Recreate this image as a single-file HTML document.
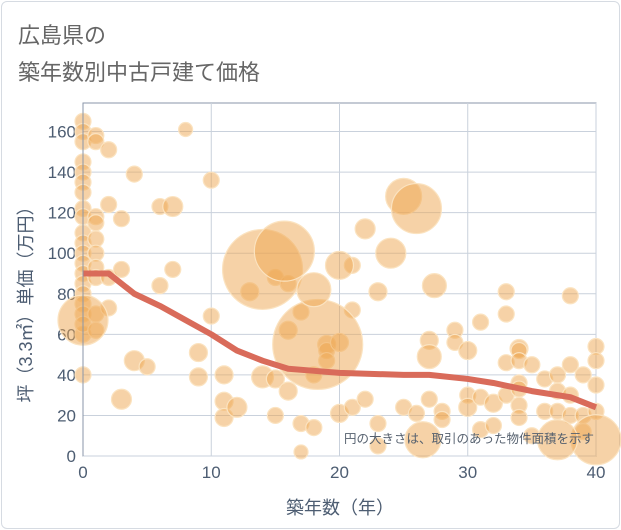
<!DOCTYPE html>
<html><head><meta charset="utf-8"><style>
html,body{margin:0;padding:0;background:#fff;}
body{width:621px;height:530px;overflow:hidden;position:relative;font-family:"Liberation Sans","Noto Sans CJK JP",sans-serif;}
#frame{position:absolute;left:1px;top:1px;width:617px;height:526px;border:1px solid #d6dbe2;border-radius:6px;}
.t{position:absolute;left:18px;font-size:22px;color:#666;}
</style></head><body>
<div id="frame"></div>
<div class="t" style="top:18px">広島県の</div>
<div class="t" style="top:55px">築年数別中古戸建て価格</div>
<svg id="chart" width="621" height="530" style="position:absolute;left:0;top:0"></svg>
<script>
const xTicks=[0,10,20,30,40];
const yTicks=[0,20,40,60,80,100,120,140,160];
const bubbleX=[0,0,0,0,0,0,0,0,0,0,0,0,0,0,0,0,0,0,0,0,0,1,1,1,1,1,1,1,1,1,1,2,2,2,2,3,3,3,4,4,5,6,6,7,7,8,9,9,10,10,11,11,11,12,13,14,15,15,15,16,16,16,17,17,17,18,18,19,19,19,20,20,21,21,21,22,23,23,23,25,26,27,27,28,28,29,29,30,30,30,31,31,31,32,32,33,33,33,33,34,34,34,34,34,34,34,35,35,36,36,37,37,37,38,38,38,38,39,39,39,40,40,40,40,
14,15.7,18.3,18,25,26,0,24,20,22,27.4,27,26.5,40,37];
const bubbleY=[165,160,155,145,140,135,130,122,118,110,105,100,95,90,85,80,75,70,60,40,65,158,155,118,115,107,100,93,88,70,62,151,124,88,73,117,92,28,139,47,44,123,84,123,92,161,51,39,136,69,40,27,19,24,81,39,38,20,88,85,62,32,71,2,16,40,14,55,52,47,56,21,72,94,24,28,16,5,81,24,21,28,57,22,18,62,56,52,30,24,66,13,29,26,15,81,70,46,30,53,52,47,36,33,25,19,45,10,38,22,40,32,22,79,45,30,20,40,20,12,54,47,35,22,
92,101,55,82,128,122,67,100,94,112,84,49,8,8,8];
const bubbleR=[8,8,8,8,8,8,8,8,8,8,8,8,8,8,8,8,8,8,8,8,8,8,8,8,8,8,8,8,8,8,8,8,8,8,8,8,8,10,8,10,8,8,8,10,8,7,9,9,8,8,9,9,9,10,9,11,9,8,8,8,9,9,8,7,8,8,8,9,8,8,9,9,8,8,8,8,8,8,9,8,8,8,9,8,8,8,8,9,8,9,8,8,8,9,8,8,8,8,8,9,8,8,8,8,8,8,8,8,8,8,8,8,8,8,8,8,8,8,8,8,8,8,8,8,
40,30,45,17,18,25,25,15,14,10,12,12,18,25,20];
const trendX=[0,2,4,6,8,10,12,14,16,18,20,25,27,30,32,35,38,40];
const trendY=[90,90,80,74,67,60,52,47,43,42,41,40,40,38,36,32,29,24];
const X0=83,X1=596,Y0=456,YT=131.5,XMAX=40,YMAX=160;
const sx=v=>X0+(X1-X0)*v/XMAX, sy=v=>Y0-(Y0-YT)*v/YMAX;
const svg=document.getElementById('chart');const NS='http://www.w3.org/2000/svg';
function mk(t,a){const e=document.createElementNS(NS,t);for(const k in a)e.setAttribute(k,a[k]);svg.appendChild(e);return e;}
const g1=mk('rect',{x:X0,y:103,width:X1-X0,height:Y0-103,fill:'#fff',stroke:'#8a96a8','stroke-width':1});


yTicks.forEach(v=>{const l=mk('line',{x1:X0,x2:X1,y1:sy(v),y2:sy(v),stroke:'#c9d1dc','stroke-width':1});


const t=mk('text',{x:X0-7,y:sy(v)+6,'text-anchor':'end','font-size':17,fill:'#4d5d72'});t.textContent=v;

});
xTicks.forEach(v=>{const l=mk('line',{x1:sx(v),x2:sx(v),y1:103,y2:Y0,stroke:'#c9d1dc','stroke-width':1});


const t=mk('text',{x:sx(v),y:Y0+22,'text-anchor':'middle','font-size':17,fill:'#4d5d72'});t.textContent=v;

});
bubbleX.forEach((v,i)=>{const c=mk('circle',{cx:sx(v),cy:sy(bubbleY[i]),r:bubbleR[i],fill:'rgba(238,165,80,0.5)',stroke:'#fbe3c0','stroke-width':1.2});

});
const p=mk('polyline',{points:trendX.map((v,i)=>sx(v)+','+sy(trendY[i])).join(' '),fill:'none',stroke:'#d96b5a','stroke-width':6,'stroke-linejoin':'round'});


const ax=mk('line',{x1:X0,x2:X0,y1:103,y2:Y0,stroke:'#8a96a8'});


const n=mk('text',{x:594,y:443,'text-anchor':'end','font-size':12.5,fill:'#55606e'});n.textContent='円の大きさは、取引のあった物件面積を示す';


const xt=mk('text',{x:340,y:514,'text-anchor':'middle','font-size':18,fill:'#4d5d72'});xt.textContent='築年数（年）';


const yt=mk('text',{x:0,y:0,'text-anchor':'middle','font-size':18,fill:'#4d5d72',transform:'translate(32,300) rotate(-90)'});yt.textContent='坪（3.3㎡）単価（万円）';


</script>
</body></html>
